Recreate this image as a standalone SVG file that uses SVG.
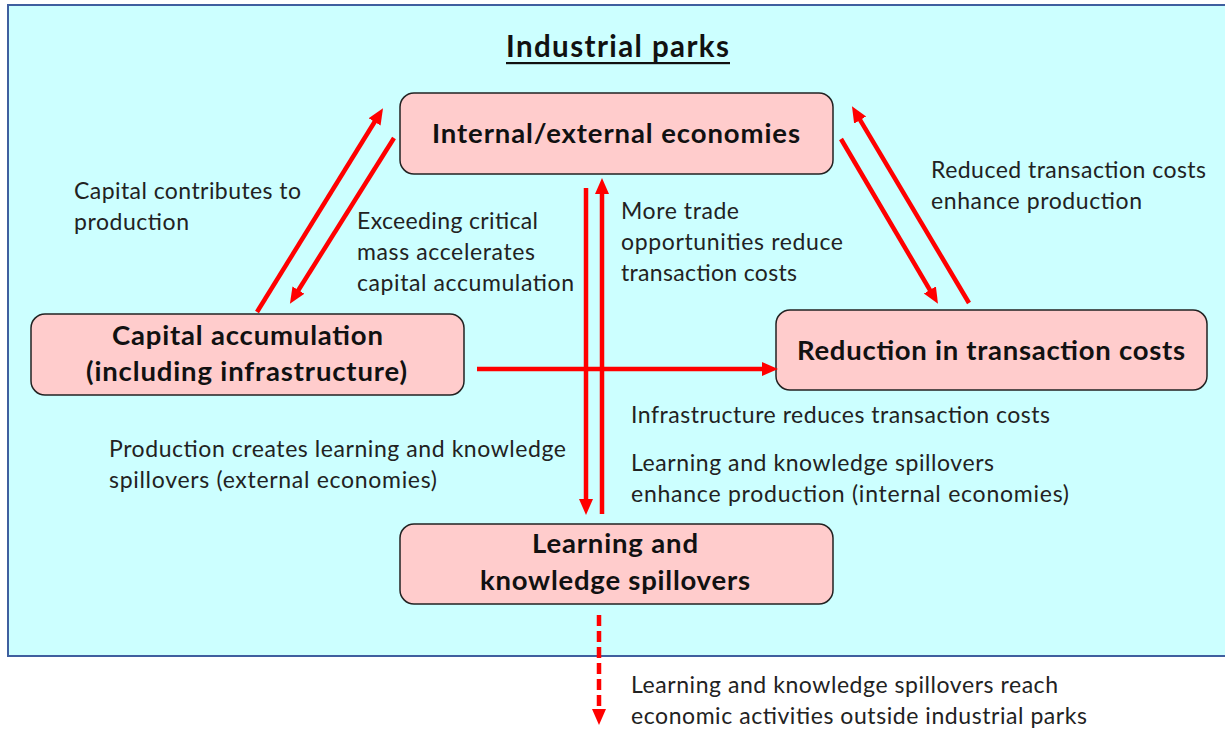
<svg xmlns="http://www.w3.org/2000/svg" width="1225" height="731" viewBox="0 0 1225 731">
  <style>
    .bg { fill: #CCFFFF; stroke: #3F5F9F; stroke-width: 2; }
    .node rect { fill: #FFCCCC; stroke: #222222; stroke-width: 1.5; }
    .title { font-family: Lato, "Liberation Sans", sans-serif; font-weight: bold; font-size: 27.5px; fill: #111111; }
    .label { font-family: Lato, "Liberation Sans", sans-serif; font-size: 23px; fill: #222222; }
    .heading { font-family: Lato, "Liberation Sans", sans-serif; font-weight: bold; font-size: 29.5px; fill: #111111; }
    .arrow { stroke: #FF0000; stroke-width: 4.5; fill: none; }
    .dashed { stroke-dasharray: 11 5; }
  </style>
  <defs>
    <marker id="head" markerUnits="userSpaceOnUse" markerWidth="17" markerHeight="15" refX="4" refY="7" orient="auto">
      <path d="M0,0 L16,7 L0,14 Z" fill="#FF0000"/>
    </marker>
  </defs>

  <!-- park boundary -->
  <rect class="bg" x="8" y="5" width="1230" height="651"/>

  <!-- heading -->
  <g id="heading">
    <text class="heading" x="506" y="57" textLength="223">Industrial parks</text>
    <rect x="506" y="62" width="224" height="2.2" fill="#111111"/>
  </g>

  <!-- nodes -->
  <g id="node-economies" class="node">
    <rect x="400" y="93" width="433" height="81" rx="14"/>
    <text class="title" x="432" y="143" textLength="368">Internal/external economies</text>
  </g>
  <g id="node-capital" class="node">
    <rect x="31" y="314" width="433" height="81" rx="14"/>
    <text class="title" x="112" y="345" textLength="271">Capital accumulation</text>
    <text class="title" x="86" y="381" textLength="321">(including infrastructure)</text>
  </g>
  <g id="node-transaction" class="node">
    <rect x="776" y="310" width="431" height="80" rx="14"/>
    <text class="title" x="797" y="360" textLength="388">Reduction in transaction costs</text>
  </g>
  <g id="node-learning" class="node">
    <rect x="400" y="524" width="433" height="80" rx="14"/>
    <text class="title" x="532" y="553" textLength="166">Learning and</text>
    <text class="title" x="480" y="590" textLength="270">knowledge spillovers</text>
  </g>

  <!-- connectors -->
  <g id="connectors">
    <line class="arrow" x1="257" y1="312" x2="376.7" y2="118.5" marker-end="url(#head)"/>
    <line class="arrow" x1="394" y1="138" x2="296.3" y2="293.5" marker-end="url(#head)"/>
    <line class="arrow" x1="841" y1="139" x2="931.9" y2="293.4" marker-end="url(#head)"/>
    <line class="arrow" x1="969" y1="303" x2="858.1" y2="116.6" marker-end="url(#head)"/>
    <line class="arrow" x1="477" y1="369" x2="766" y2="369" marker-end="url(#head)"/>
    <line class="arrow" x1="586" y1="188" x2="586" y2="503" marker-end="url(#head)"/>
    <line class="arrow" x1="602" y1="514" x2="602" y2="190" marker-end="url(#head)"/>
    <line class="arrow dashed" x1="599" y1="615" x2="599" y2="713" marker-end="url(#head)"/>
  </g>

  <!-- connector labels -->
  <g id="labels">
    <text class="label" x="74" y="199" textLength="227">Capital contributes to</text>
    <text class="label" x="74" y="230" textLength="115">production</text>

    <text class="label" x="357" y="229" textLength="181">Exceeding critical</text>
    <text class="label" x="357" y="260" textLength="178">mass accelerates</text>
    <text class="label" x="357" y="291" textLength="217">capital accumulation</text>

    <text class="label" x="621" y="219" textLength="118">More trade</text>
    <text class="label" x="621" y="250" textLength="222">opportunities reduce</text>
    <text class="label" x="621" y="281" textLength="176">transaction costs</text>

    <text class="label" x="931" y="178" textLength="275">Reduced transaction costs</text>
    <text class="label" x="931" y="209" textLength="211">enhance production</text>

    <text class="label" x="109" y="457" textLength="457">Production creates learning and knowledge</text>
    <text class="label" x="109" y="488" textLength="328">spillovers (external economies)</text>

    <text class="label" x="631" y="423" textLength="419">Infrastructure reduces transaction costs</text>

    <text class="label" x="631" y="471" textLength="363">Learning and knowledge spillovers</text>
    <text class="label" x="631" y="502" textLength="438">enhance production (internal economies)</text>

    <text class="label" x="631" y="693" textLength="427">Learning and knowledge spillovers reach</text>
    <text class="label" x="631" y="724" textLength="456">economic activities outside industrial parks</text>
  </g>
</svg>
